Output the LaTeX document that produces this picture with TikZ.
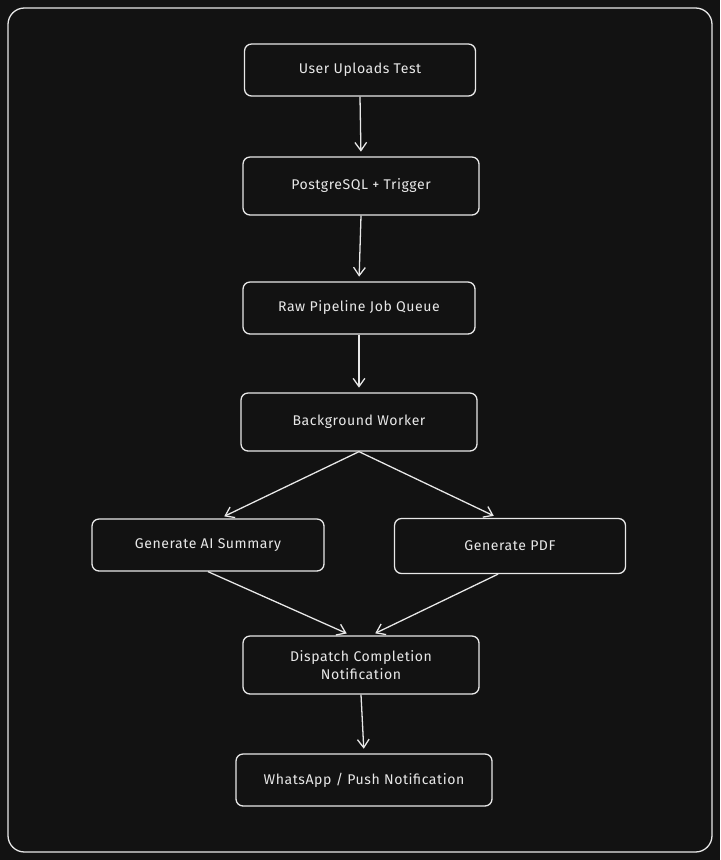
\documentclass[tikz,border=0pt]{standalone}
\usepackage{fontspec}
\setmainfont{Fira Sans}[LetterSpace=4]
\usetikzlibrary{arrows.meta}
\definecolor{bg}{HTML}{121212}
\definecolor{ln}{HTML}{E8E8E8}
\begin{document}
\begin{tikzpicture}[x=0.03cm,y=-0.03cm,
  box/.style={draw=ln,line width=1.1pt,rounded corners=6pt,text=ln,font=\fontsize{12}{16}\selectfont,align=center,inner sep=0pt},
  arr/.style={draw=ln,line width=1.1pt,-{Straight Barb[length=7pt,width=10pt]},shorten >=4pt}]
\fill[bg] (0,0) rectangle (720,860);
\useasboundingbox (0,0) rectangle (720,860);
\draw[ln,line width=1.1pt,rounded corners=14pt] (8,8) rectangle (712,852);
\node[box,minimum width=231*0.03cm,minimum height=52*0.03cm] (u) at (360,70) {User Uploads Test};
\node[box,minimum width=236*0.03cm,minimum height=58*0.03cm] (p) at (361,186) {PostgreSQL + Trigger};
\node[box,minimum width=232*0.03cm,minimum height=52*0.03cm] (q) at (359,308) {Raw Pipeline Job Queue};
\node[box,minimum width=236*0.03cm,minimum height=58*0.03cm] (w) at (359,422) {Background Worker};
\node[box,minimum width=232*0.03cm,minimum height=52*0.03cm] (ai) at (208,545) {Generate AI Summary};
\node[box,minimum width=231*0.03cm,minimum height=55*0.03cm] (pdf) at (510,546) {Generate PDF};
\node[box,minimum width=236*0.03cm,minimum height=58*0.03cm] (d) at (361,665) {Dispatch Completion\\Notification};
\node[box,minimum width=256*0.03cm,minimum height=52*0.03cm] (wa) at (364,780) {WhatsApp / Push Notification};
\draw[arr] (u.south) -- (p.north);
\draw[arr] (p.south) -- (q.north);
\draw[arr] (q.south) -- (w.north);
\draw[arr] (w.south) -- ([xshift=12*0.03cm]ai.north);
\draw[arr] (w.south) -- ([xshift=-12*0.03cm]pdf.north);
\draw[arr] (ai.south) -- ([xshift=-10*0.03cm]d.north);
\draw[arr] ([xshift=-12*0.03cm]pdf.south) -- ([xshift=10*0.03cm]d.north);
\draw[arr] (d.south) -- (wa.north);
\end{tikzpicture}
\end{document}
